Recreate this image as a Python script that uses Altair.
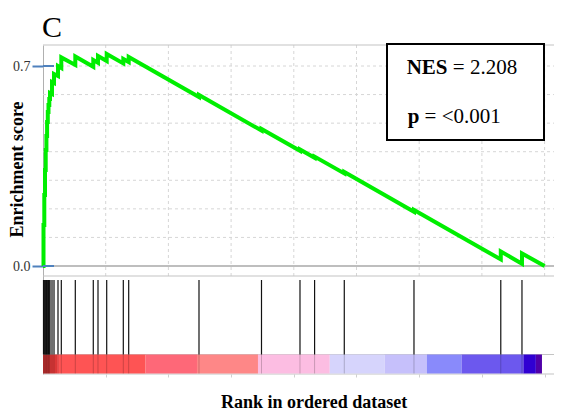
import altair as alt
import pandas as pd

# ---- data ----
n_genes = 20000
# ranks of gene-set members (hits) in the ordered dataset
hit_ranks = [20, 52, 80, 108, 136, 163, 191, 219, 251, 279, 359, 439, 598, 730,
             1288, 2005, 2193, 2540, 3202, 3417, 6220, 8712, 10247, 10829, 12013,
             14792, 18253, 19098]
# running enrichment score just before / after each hit
es_before = [0.000, 0.1435, 0.2485, 0.336, 0.406, 0.455, 0.504, 0.539, 0.5635, 0.5845,
             0.602, 0.6405, 0.665, 0.693, 0.7035, 0.697, 0.7116, 0.7175, 0.709, 0.7137,
             0.5915, 0.474, 0.403, 0.379, 0.324, 0.190, 0.023, 0.008]
es_after = [0.1435, 0.2485, 0.336, 0.406, 0.455, 0.504, 0.539, 0.5635, 0.5845, 0.6055,
            0.644, 0.672, 0.700, 0.730, 0.733, 0.721, 0.735, 0.742, 0.7245, 0.7315,
            0.5985, 0.4795, 0.408, 0.383, 0.329, 0.196, 0.051, 0.044]
# ranked-list metric colour bar
bar_start = [0, 558, 4091, 6140, 8572, 11435, 13628, 15310, 16690, 19154, 19652]
bar_end = [558, 4091, 6140, 8572, 11435, 13628, 15310, 16690, 19154, 19652, 19895]
bar_color = ["#dc3838", "#fe5454", "#fe6878", "#fe8787", "#fcbde2", "#d6d4fc",
             "#c6c0fb", "#898afb", "#6c58ee", "#3000d2", "#5000a8"]
grid_ranks = [2500, 5000, 7500, 10000, 12500, 15000, 17500, 20000]
es_grid = [0.1, 0.2, 0.3, 0.4, 0.5, 0.6, 0.7]
es_ticks = [0.0, 0.7]
nes_text = ["NES", "= 2.208"]
p_text = ["p", "= <0.001"]
panel_label = "C"

# ---- tables ----
rows = [{"rank": 0, "es": 0.0}]
for r, b, a in zip(hit_ranks, es_before, es_after):
    rows.append({"rank": r, "es": b})
    rows.append({"rank": r, "es": a})
rows.append({"rank": n_genes, "es": 0.0})
curve = pd.DataFrame(rows)
curve["order"] = range(len(curve))
hits = pd.DataFrame({"rank": hit_ranks})
bars = pd.DataFrame({"rank": bar_start, "end": bar_end, "color": bar_color})
vgrid = pd.DataFrame({"rank": grid_ranks})
hgrid = pd.DataFrame({"es": es_grid})
ticks = pd.DataFrame({"es": es_ticks})
zero = pd.DataFrame({"es": [0.0]})
one = pd.DataFrame({"k": [0]})

W, H = 511, 329
FONT = "Liberation Serif"
xs = alt.Scale(domain=[0, 20375], nice=False, zero=False)
ys = alt.Scale(domain=[-0.378, 0.7735], nice=False, zero=False)

x_axis = alt.Axis(values=grid_ranks, labels=False, ticks=True, tickSize=3,
                  tickColor="#d0d0d0", domain=False, grid=False,
                  title="Rank in ordered dataset", titleFont=FONT, titleFontSize=18,
                  titleFontWeight="bold", titleColor="#000", titleX=270.6, titleY=33,
                  titleBaseline="alphabetic", titleAlign="center")
y_axis = alt.Axis(values=es_ticks, format=".1f", grid=False, tickColor="#4f81bd",
                  tickSize=11, tickWidth=2, domainColor="#b0b0b0", labelFont=FONT,
                  labelFontSize=14, labelColor="#333", labelPadding=2,
                  title="Enrichment score", titleFont=FONT, titleFontSize=18,
                  titleFontWeight="bold", titleColor="#000", titleAngle=270,
                  titleX=-20.5, titleY=124, titleBaseline="alphabetic", titleAlign="center")

X = lambda f: alt.X(f, scale=xs, axis=x_axis)
Y = lambda f: alt.Y(f, scale=ys, axis=y_axis)

vgrid_l = alt.Chart(vgrid).mark_rule(color="#d6d6d6", strokeDash=[3, 3], strokeWidth=1).encode(
    x=X("rank:Q"), y=alt.value(0), y2=alt.value(231))
hgrid_l = alt.Chart(hgrid).mark_rule(color="#d6d6d6", strokeDash=[3, 3], strokeWidth=1).encode(
    y=Y("es:Q"), x=alt.value(0), x2=alt.value(W))

def hline(ypx, color="#c4c4c4", w=1.2):
    return alt.Chart(one).mark_rule(color=color, strokeWidth=w).encode(
        y=alt.value(ypx), x=alt.value(0), x2=alt.value(W))

zero_l = alt.Chart(zero).mark_rule(color="#a8a8a8", strokeWidth=1.3).encode(
    y=Y("es:Q"), x=alt.value(0), x2=alt.value(W))

bar_l = alt.Chart(bars).mark_rect().encode(
    x=X("rank:Q"), x2="end:Q",
    y=alt.value(309.5), y2=alt.value(328.5), color=alt.Color("color:N", scale=None))
hit_l = alt.Chart(hits).mark_rule(color="#111", strokeWidth=1.2).encode(
    x=X("rank:Q"), y=alt.value(235), y2=alt.value(309.5))
hit_bar_l = alt.Chart(hits).mark_rule(color="#000", strokeWidth=1, opacity=0.2).encode(
    x=X("rank:Q"), y=alt.value(309.5), y2=alt.value(328.5))

line_l = alt.Chart(curve).mark_line(color="#00ee00", strokeWidth=4).encode(
    x=X("rank:Q"), y=Y("es:Q"), order="order:Q")

tick_l = alt.Chart(ticks).mark_rule(color="#4f81bd", strokeWidth=2).encode(
    y=Y("es:Q"), x=alt.value(0), x2=alt.value(11))

box_l = alt.Chart(one).mark_rect(fill="white", stroke="black", strokeWidth=2).encode(
    x=alt.value(344), x2=alt.value(501), y=alt.value(-1), y2=alt.value(95))

def txt(s, xp, yp, size, bold=False):
    return alt.Chart(one).mark_text(align="left", baseline="alphabetic", font=FONT,
                                    fontSize=size, fontWeight="bold" if bold else "normal",
                                    color="#000").encode(
        x=alt.value(xp), y=alt.value(yp), text=alt.value(s))

chart = alt.layer(
    vgrid_l, hgrid_l,
    hline(0), hline(231), hline(309.5), hline(329),
    zero_l, bar_l, hit_bar_l, hit_l, line_l, tick_l, box_l,
    txt(nes_text[0], 363.7, 29, 21, True), txt(nes_text[1], 409.8, 29, 21),
    txt(p_text[0], 364.7, 77.7, 21, True), txt(p_text[1], 381.6, 77.7, 21),
    txt(panel_label, -1, -8, 30),
).properties(
    width=W, height=H,
    autosize=alt.AutoSizeParams(type="none"),
    padding={"left": 35, "top": 37, "right": 0, "bottom": 36},
).configure_view(stroke=None)

chart.save("out.html", embed_options={"renderer": "svg", "actions": False})
